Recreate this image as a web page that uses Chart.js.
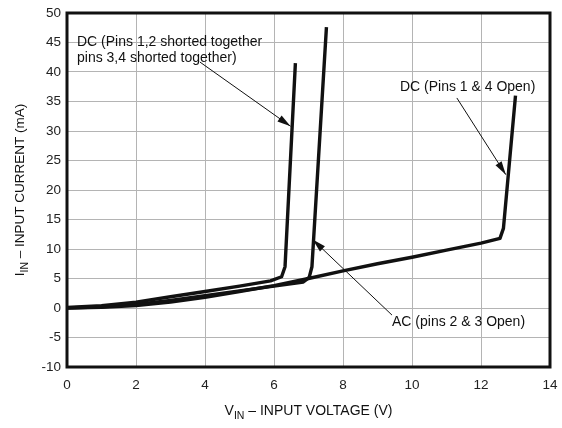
<!DOCTYPE html>
<html>
<head>
<meta charset="utf-8">
<script src="https://cdn.jsdelivr.net/npm/chart.js@4.4.1/dist/chart.umd.min.js"></script>
<style>
  html, body { margin: 0; padding: 0; background: #fff; }
  #wrap { width: 562px; height: 428px; }
</style>
</head>
<body>
<div id="wrap"><canvas id="chart"></canvas></div>
<script>
// values (V in volts, I in mA)
const dcShortedV = [0, 1, 2, 3, 4, 5, 5.9, 6.22, 6.32, 6.62];
const dcShortedI = [0.1, 0.4, 1.0, 1.9, 2.8, 3.7, 4.6, 5.3, 7.0, 41.5];

const acOpenV = [0, 1, 2, 3, 4, 5, 6, 6.85, 7.02, 7.1, 7.52];
const acOpenI = [0, 0.2, 0.6, 1.3, 2.1, 2.9, 3.7, 4.4, 5.2, 7.0, 47.6];

const dcOpenV = [0, 1, 2, 3, 4, 5, 6, 7, 8, 9, 10, 11, 12, 12.55, 12.65, 13.0];
const dcOpenI = [0, 0.1, 0.4, 1.0, 1.8, 2.8, 3.8, 5.0, 6.3, 7.5, 8.6, 9.8, 11.0, 11.8, 13.5, 36.0];

const xTicks = [0, 2, 4, 6, 8, 10, 12, 14];
const yTicks = [-10, -5, 0, 5, 10, 15, 20, 25, 30, 35, 40, 45, 50];

const pts = (xs, ys) => xs.map((x, i) => ({ x, y: ys[i] }));
const FONT = '"Liberation Sans", Arial, sans-serif';

// labels + arrows drawn on top, positioned in data units
const notes = {
  id: 'notes',
  afterDatasetsDraw(chart) {
    const { ctx, chartArea: a, scales: { x, y } } = chart;
    ctx.save();
    ctx.fillStyle = '#111';
    ctx.strokeStyle = '#111';
    ctx.font = '14px ' + FONT;
    ctx.textBaseline = 'middle';
    ctx.textAlign = 'left';
    ctx.fillText('DC (Pins 1,2 shorted together', x.getPixelForValue(0.29), y.getPixelForValue(45));
    ctx.fillText('pins 3,4 shorted together)', x.getPixelForValue(0.29), y.getPixelForValue(42.4));
    ctx.fillText('DC (Pins 1 & 4 Open)', x.getPixelForValue(9.65), y.getPixelForValue(37.5));
    ctx.fillText('AC (pins 2 & 3 Open)', x.getPixelForValue(9.42), y.getPixelForValue(-2.4));

    const arrow = (x0, y0, x1, y1) => {
      const px0 = x.getPixelForValue(x0), py0 = y.getPixelForValue(y0);
      const px1 = x.getPixelForValue(x1), py1 = y.getPixelForValue(y1);
      ctx.lineWidth = 1;
      ctx.beginPath();
      ctx.moveTo(px0, py0);
      ctx.lineTo(px1, py1);
      ctx.stroke();
      const ang = Math.atan2(py1 - py0, px1 - px0);
      const len = 14, w = 0.26;
      ctx.beginPath();
      ctx.moveTo(px1, py1);
      ctx.lineTo(px1 - len * Math.cos(ang - w), py1 - len * Math.sin(ang - w));
      ctx.lineTo(px1 - len * Math.cos(ang + w), py1 - len * Math.sin(ang + w));
      ctx.closePath();
      ctx.fill();
    };
    arrow(3.85, 41.7, 6.48, 30.8);
    arrow(11.3, 35.6, 12.72, 22.6);
    arrow(9.42, -1.2, 7.12, 11.6);

    // heavy frame
    ctx.lineWidth = 3;
    ctx.strokeRect(a.left, a.top, a.right - a.left, a.bottom - a.top);

    // axis titles with subscripts
    ctx.textBaseline = 'alphabetic';
    const xt = [['V', 14, 0], ['IN', 10.5, 4], [' – INPUT VOLTAGE (V)', 14, 0]];
    let total = 0;
    xt.forEach(([t, s]) => { ctx.font = s + 'px ' + FONT; total += ctx.measureText(t).width; });
    let cx = (a.left + a.right) / 2 - total / 2;
    xt.forEach(([t, s, d]) => {
      ctx.font = s + 'px ' + FONT;
      ctx.fillText(t, cx, 415 + d);
      cx += ctx.measureText(t).width;
    });

    ctx.translate(24, (a.top + a.bottom) / 2);
    ctx.rotate(-Math.PI / 2);
    const yt = [['I', 13.5, 0], ['IN', 10.5, 4], [' – INPUT CURRENT (mA)', 13.5, 0]];
    total = 0;
    yt.forEach(([t, s]) => { ctx.font = s + 'px ' + FONT; total += ctx.measureText(t).width; });
    cx = -total / 2;
    yt.forEach(([t, s, d]) => {
      ctx.font = s + 'px ' + FONT;
      ctx.fillText(t, cx, d);
      cx += ctx.measureText(t).width;
    });
    ctx.restore();
  },
};

const line = (data) => ({
  data,
  borderColor: '#111',
  borderWidth: 3.4,
  pointRadius: 0,
  tension: 0,
  fill: false,
  borderJoinStyle: 'round',
  borderCapStyle: 'butt',
});

window.addEventListener('load', () => {
  const ctx = document.getElementById('chart').getContext('2d');
  new Chart(ctx, {
    type: 'scatter',
    data: {
      datasets: [
        line(pts(dcShortedV, dcShortedI)),
        line(pts(acOpenV, acOpenI)),
        line(pts(dcOpenV, dcOpenI)),
      ],
    },
    options: {
      responsive: true,
      maintainAspectRatio: false,
      animation: false,
      showLine: true,
      layout: { padding: { top: 13, right: 12, left: 0, bottom: 0 } },
      plugins: { legend: { display: false }, tooltip: { enabled: false } },
      scales: {
        x: {
          type: 'linear',
          min: 0,
          max: 14,
          afterBuildTicks: (s) => { s.ticks = xTicks.map((v) => ({ value: v })); },
          afterFit: (s) => { s.height = 61; s.paddingLeft = 0; s.paddingRight = 0; },
          grid: { color: '#b4b4b4', lineWidth: 1, drawTicks: false },
          border: { display: false },
          ticks: { color: '#222', font: { family: FONT, size: 13.5 }, padding: 10 },
        },
        y: {
          type: 'linear',
          min: -10,
          max: 50,
          afterBuildTicks: (s) => { s.ticks = yTicks.map((v) => ({ value: v })); },
          afterFit: (s) => { s.width = 67; s.paddingTop = 0; s.paddingBottom = 0; },
          grid: { color: '#b4b4b4', lineWidth: 1, drawTicks: false },
          border: { display: false },
          ticks: { color: '#222', font: { family: FONT, size: 13.5 }, padding: 6 },
        },
      },
    },
    plugins: [notes],
  });
});
</script>
</body>
</html>
